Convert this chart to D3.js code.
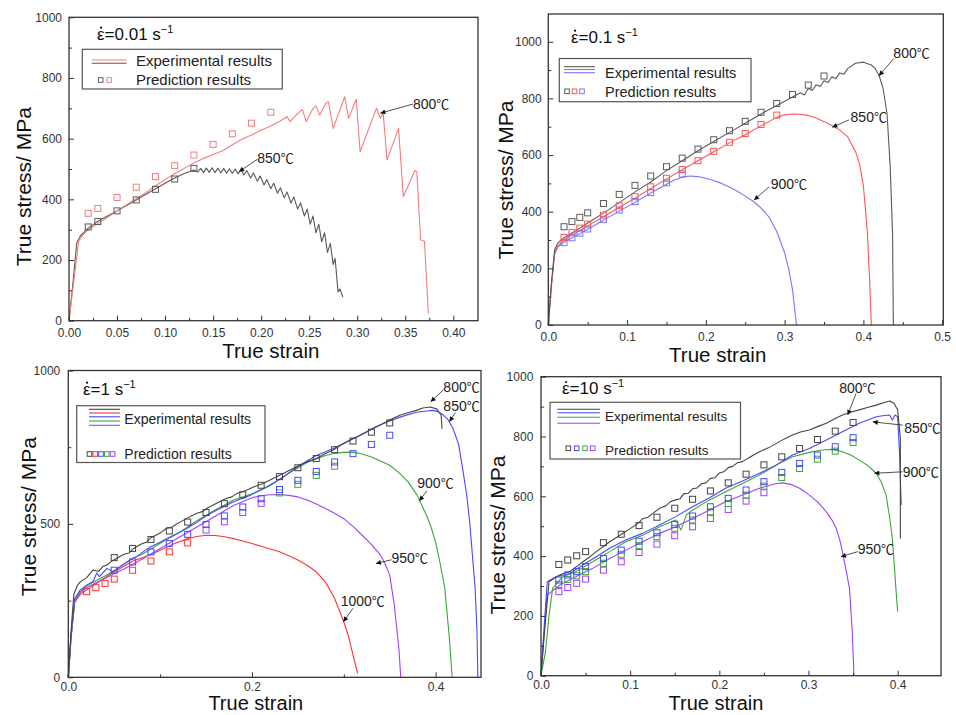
<!DOCTYPE html>
<html><head><meta charset="utf-8">
<script src="https://cdn.jsdelivr.net/npm/d3@7"></script>
<style>
body{margin:0;background:#fff}
svg{display:block}
text{font-family:"Liberation Sans",Arial,sans-serif}
</style>
</head><body>
<svg id="chart" width="956" height="715"></svg>
<script>
// ---------- strain-rate 0.01 s^-1 ----------
const P1_EXP_800 = [[0,0],[0.005,130],[0.01,262],[0.015,285],[0.02,300],[0.03,320],[0.04,340],[0.05,362],[0.06,382],[0.07,402],[0.08,422],[0.09,445],[0.10,465],[0.11,485],[0.12,502],[0.13,520],[0.14,535],[0.15,548],[0.16,560],[0.17,580],[0.18,598],[0.19,612],[0.20,628],[0.21,642],[0.22,658],[0.227,673],[0.23,656],[0.24,689],[0.243,695],[0.247,656],[0.254,700],[0.257,708],[0.261,678],[0.267,715],[0.27,722],[0.275,634],[0.287,738],[0.291,667],[0.299,730],[0.303,557],[0.32,700],[0.324,667],[0.327,684],[0.331,530],[0.343,634],[0.348,409],[0.36,495],[0.362,491],[0.366,266],[0.37,262],[0.374,24]];
const P1_EXP_850 = [[0,0],[0.004,120],[0.008,255],[0.012,280],[0.02,305],[0.03,328],[0.04,345],[0.05,362],[0.06,380],[0.07,398],[0.08,417],[0.09,435],[0.10,453],[0.11,470],[0.12,485],[0.13,497],[0.134,490],[0.137,502],[0.140,488],[0.143,503],[0.146,489],[0.149,504],[0.152,488],[0.155,503],[0.158,487],[0.161,502],[0.164,486],[0.167,501],[0.170,485],[0.173,500],[0.176,484],[0.179,499],[0.182,480],[0.185,495],[0.189,470],[0.192,487],[0.196,460],[0.199,477],[0.203,447],[0.206,465],[0.210,435],[0.213,453],[0.217,420],[0.220,438],[0.224,405],[0.227,424],[0.231,388],[0.234,408],[0.238,368],[0.241,388],[0.245,345],[0.248,368],[0.251,318],[0.254,345],[0.257,290],[0.260,318],[0.263,260],[0.266,290],[0.269,225],[0.272,255],[0.275,185],[0.277,205],[0.280,95],[0.282,105],[0.285,78]];
const P1_PRED_800 = [[0.02,354],[0.03,370],[0.05,406],[0.07,440],[0.09,475],[0.11,511],[0.13,546],[0.15,581],[0.17,616],[0.19,651],[0.21,687]];
const P1_PRED_850 = [[0.02,309],[0.03,327],[0.05,362],[0.07,398],[0.09,433],[0.11,467],[0.13,502]];
const P1_X_TICKS = [0,0.05,0.10,0.15,0.20,0.25,0.30,0.35,0.40];
const P1_X_LABELS = ["0.00","0.05","0.10","0.15","0.20","0.25","0.30","0.35","0.40"];
const P1_X_MINOR = [0.025,0.075,0.125,0.175,0.225,0.275,0.325,0.375];
const P1_Y_TICKS = [0,200,400,600,800,1000];
const P1_Y_LABELS = ["0","200","400","600","800","1000"];
const P1_Y_MINOR = [100,300,500,700,900];

// ---------- strain-rate 0.1 s^-1 ----------
const P2_EXP_800 = [[0,0],[0.004,150],[0.008,265],[0.012,290],[0.02,308],[0.03,325],[0.04,342],[0.05,360],[0.07,395],[0.09,432],[0.11,470],[0.13,505],[0.15,545],[0.17,580],[0.19,615],[0.21,648],[0.23,680],[0.25,712],[0.27,745],[0.29,775],[0.31,805],[0.32,820],[0.325,812],[0.33,835],[0.335,828],[0.34,848],[0.345,842],[0.35,862],[0.355,856],[0.36,876],[0.365,870],[0.37,890],[0.375,885],[0.38,905],[0.39,924],[0.40,928],[0.41,918],[0.415,905],[0.42,880],[0.425,835],[0.43,745],[0.434,560],[0.437,320],[0.438,0]];
const P2_EXP_850 = [[0,0],[0.004,140],[0.008,255],[0.012,280],[0.02,300],[0.03,318],[0.04,333],[0.05,350],[0.07,382],[0.09,415],[0.11,448],[0.13,482],[0.15,515],[0.17,548],[0.19,580],[0.21,612],[0.23,643],[0.25,672],[0.27,703],[0.29,733],[0.30,742],[0.31,745],[0.32,744],[0.33,740],[0.34,731],[0.35,718],[0.36,704],[0.37,688],[0.38,665],[0.39,612],[0.395,570],[0.40,490],[0.405,330],[0.408,150],[0.41,0]];
const P2_EXP_900 = [[0,0],[0.004,140],[0.008,250],[0.012,275],[0.02,292],[0.03,308],[0.04,322],[0.05,338],[0.07,370],[0.09,402],[0.11,433],[0.13,466],[0.15,497],[0.16,512],[0.17,522],[0.18,526],[0.19,524],[0.20,518],[0.21,510],[0.22,500],[0.23,487],[0.24,472],[0.25,455],[0.26,437],[0.27,413],[0.28,382],[0.29,330],[0.30,255],[0.305,200],[0.31,125],[0.315,0]];
const P2_PRED_800 = [[0.02,347],[0.03,365],[0.04,380],[0.05,396],[0.07,429],[0.09,461],[0.11,493],[0.13,526],[0.15,559],[0.17,589],[0.19,621],[0.21,654],[0.23,686],[0.25,719],[0.27,751],[0.29,782],[0.31,814],[0.33,847],[0.35,879]];
const P2_PRED_850 = [[0.02,309],[0.03,327],[0.04,342],[0.05,356],[0.07,388],[0.09,421],[0.11,453],[0.13,488],[0.15,518],[0.17,549],[0.19,580],[0.21,613],[0.23,645],[0.25,676],[0.27,708],[0.29,741]];
const P2_PRED_900 = [[0.02,291],[0.03,308],[0.04,324],[0.05,339],[0.07,373],[0.09,406],[0.11,436],[0.13,468],[0.15,502],[0.17,533]];
const P2_X_TICKS = [0,0.1,0.2,0.3,0.4,0.5];
const P2_X_LABELS = ["0.0","0.1","0.2","0.3","0.4","0.5"];
const P2_X_MINOR = [0.05,0.15,0.25,0.35,0.45];
const P2_Y_TICKS = [0,200,400,600,800,1000];
const P2_Y_LABELS = ["0","200","400","600","800","1000"];
const P2_Y_MINOR = [100,300,500,700,900];

// ---------- strain-rate 1 s^-1 ----------
const P3_EXP_800 = [[0,0],[0.003,150],[0.006,270],[0.01,300],[0.013,311],[0.02,325],[0.027,350],[0.033,345],[0.038,362],[0.042,366],[0.047,378],[0.053,388],[0.06,400],[0.066,405],[0.071,420],[0.08,435],[0.085,440],[0.089,453],[0.1,470],[0.107,486],[0.113,490],[0.118,500],[0.129,518],[0.14,535],[0.146,540],[0.151,551],[0.162,568],[0.172,583],[0.178,588],[0.183,598],[0.194,610],[0.203,622],[0.212,632],[0.223,648],[0.234,664],[0.243,678],[0.252,691],[0.261,703],[0.27,713],[0.279,728],[0.288,740],[0.297,757],[0.306,772],[0.316,786],[0.325,800],[0.334,815],[0.343,827],[0.352,842],[0.361,854],[0.37,862],[0.379,870],[0.386,878],[0.394,881],[0.401,875],[0.406,854],[0.407,810]];
const P3_EXP_850 = [[0,0],[0.003,140],[0.007,257],[0.013,285],[0.02,300],[0.027,312],[0.031,340],[0.034,328],[0.042,355],[0.049,344],[0.056,360],[0.064,376],[0.075,395],[0.089,425],[0.1,440],[0.107,452],[0.118,468],[0.129,485],[0.14,505],[0.151,528],[0.165,550],[0.18,572],[0.198,593],[0.216,620],[0.234,653],[0.252,691],[0.27,723],[0.288,745],[0.306,772],[0.325,800],[0.343,827],[0.361,848],[0.379,864],[0.39,868],[0.397,870],[0.403,866],[0.408,856],[0.414,838],[0.419,810],[0.425,760],[0.43,669],[0.434,590],[0.437,507],[0.44,400],[0.443,290],[0.445,150],[0.446,0]];
const P3_EXP_900 = [[0,0],[0.003,130],[0.007,250],[0.013,280],[0.02,298],[0.03,315],[0.04,330],[0.05,348],[0.06,368],[0.07,388],[0.08,400],[0.09,418],[0.1,437],[0.12,470],[0.14,510],[0.16,545],[0.18,578],[0.2,598],[0.22,625],[0.24,665],[0.26,700],[0.28,723],[0.29,730],[0.3,733],[0.31,734],[0.32,728],[0.33,718],[0.34,705],[0.35,691],[0.36,667],[0.37,637],[0.38,593],[0.39,528],[0.395,490],[0.40,441],[0.405,370],[0.41,290],[0.415,127],[0.418,0]];
const P3_EXP_950 = [[0,0],[0.003,130],[0.007,250],[0.013,275],[0.02,292],[0.03,308],[0.04,322],[0.05,338],[0.06,352],[0.07,368],[0.08,385],[0.09,402],[0.1,420],[0.12,455],[0.14,490],[0.16,525],[0.18,560],[0.2,585],[0.21,592],[0.22,595],[0.23,596],[0.24,593],[0.25,588],[0.26,578],[0.27,565],[0.28,550],[0.29,535],[0.3,517],[0.31,492],[0.32,463],[0.33,433],[0.34,398],[0.345,370],[0.35,333],[0.355,235],[0.36,94],[0.362,0]];
const P3_EXP_1000 = [[0,0],[0.003,130],[0.007,245],[0.013,270],[0.02,285],[0.03,305],[0.04,325],[0.05,344],[0.07,378],[0.09,400],[0.1,414],[0.115,435],[0.13,452],[0.14,459],[0.15,463],[0.16,462],[0.17,458],[0.18,452],[0.19,444],[0.2,436],[0.21,427],[0.22,418],[0.23,409],[0.24,396],[0.25,382],[0.26,365],[0.27,344],[0.28,311],[0.29,257],[0.3,181],[0.305,135],[0.31,73],[0.315,13]];
const P3_PRED_800 = [[0.05,390],[0.07,420],[0.09,449],[0.11,477],[0.13,506],[0.15,537],[0.17,566],[0.19,595],[0.21,626],[0.23,654],[0.25,683],[0.27,713],[0.29,742],[0.31,770],[0.33,799],[0.35,829]];
const P3_PRED_850 = [[0.05,349],[0.07,376],[0.09,409],[0.11,436],[0.13,466],[0.15,498],[0.17,526],[0.19,555],[0.21,582],[0.23,612],[0.25,642],[0.27,671],[0.29,702],[0.31,729],[0.33,759],[0.35,789]];
const P3_PRED_900 = [[0.23,601],[0.25,629],[0.27,658],[0.29,688]];
const P3_PRED_950 = [[0.15,480],[0.17,507],[0.19,537],[0.21,567]];
const P3_PRED_1000 = [[0.02,279],[0.03,292],[0.04,306],[0.05,320],[0.07,349],[0.09,379],[0.11,409],[0.13,438]];
const P3_X_TICKS = [0,0.2,0.4];
const P3_X_LABELS = ["0.0","0.2","0.4"];
const P3_X_MINOR = [0.1,0.3];
const P3_Y_TICKS = [0,500,1000];
const P3_Y_LABELS = ["0","500","1000"];
const P3_Y_MINOR = [250,750];

// ---------- strain-rate 10 s^-1 ----------
const P4_EXP_800 = [[0,0],[0.004,150],[0.009,314],[0.017,331],[0.025,342],[0.032,348],[0.04,365],[0.047,381],[0.055,398],[0.062,415],[0.07,432],[0.077,448],[0.086,465],[0.095,482],[0.105,502],[0.11,512],[0.114,526],[0.12,530],[0.125,542],[0.133,560],[0.14,568],[0.145,582],[0.151,588],[0.156,592],[0.16,608],[0.165,610],[0.17,625],[0.175,628],[0.18,642],[0.185,645],[0.19,660],[0.195,662],[0.2,678],[0.205,682],[0.21,696],[0.215,700],[0.22,712],[0.226,716],[0.235,732],[0.245,749],[0.255,762],[0.264,777],[0.273,792],[0.282,805],[0.291,815],[0.301,822],[0.31,833],[0.32,844],[0.33,860],[0.338,872],[0.348,882],[0.357,889],[0.367,898],[0.376,905],[0.385,914],[0.391,919],[0.396,911],[0.4,889],[0.403,794],[0.403,459]];
const P4_EXP_850 = [[0,0],[0.003,140],[0.007,314],[0.017,331],[0.032,342],[0.047,370],[0.062,398],[0.077,426],[0.095,454],[0.114,476],[0.133,504],[0.151,532],[0.17,565],[0.189,595],[0.207,627],[0.226,651],[0.245,677],[0.264,705],[0.282,738],[0.301,760],[0.32,788],[0.338,816],[0.357,844],[0.376,866],[0.385,870],[0.391,872],[0.394,855],[0.397,872],[0.4,866],[0.402,749],[0.404,571]];
const P4_EXP_900 = [[0,0],[0.005,80],[0.009,200],[0.013,292],[0.024,331],[0.039,348],[0.058,381],[0.077,415],[0.095,448],[0.114,470],[0.133,498],[0.151,521],[0.157,487],[0.163,538],[0.17,554],[0.189,588],[0.207,615],[0.226,643],[0.245,671],[0.264,705],[0.282,732],[0.301,747],[0.315,755],[0.327,757],[0.338,749],[0.348,737],[0.357,721],[0.367,702],[0.376,677],[0.382,645],[0.387,604],[0.391,530],[0.394,459],[0.396,380],[0.398,292],[0.4,214]];
const P4_EXP_950 = [[0,0],[0.003,120],[0.007,270],[0.021,303],[0.039,331],[0.058,359],[0.077,392],[0.095,420],[0.114,448],[0.133,476],[0.151,498],[0.17,526],[0.189,554],[0.207,582],[0.226,604],[0.245,627],[0.264,643],[0.271,645],[0.28,640],[0.29,627],[0.301,604],[0.31,582],[0.32,548],[0.326,522],[0.331,493],[0.335,455],[0.338,415],[0.342,355],[0.346,292],[0.349,150],[0.351,0]];
const P4_PRED_800 = [[0.02,372],[0.03,387],[0.04,401],[0.05,415],[0.07,445],[0.09,473],[0.11,502],[0.13,530],[0.15,560],[0.17,590],[0.19,618],[0.21,645],[0.23,674],[0.25,705],[0.27,732],[0.29,760],[0.31,790],[0.33,818],[0.35,847]];
const P4_PRED_850 = [[0.02,320],[0.03,337],[0.04,348],[0.05,365],[0.07,392],[0.09,420],[0.11,450],[0.13,478],[0.15,506],[0.17,534],[0.19,565],[0.21,593],[0.23,621],[0.25,649],[0.27,680],[0.29,710],[0.31,738],[0.33,766],[0.35,796]];
const P4_PRED_900 = [[0.02,305],[0.03,322],[0.04,334],[0.05,348],[0.07,376],[0.09,406],[0.11,435],[0.13,465],[0.15,493],[0.17,521],[0.19,548],[0.21,576],[0.23,604],[0.25,634],[0.27,663],[0.29,693],[0.31,724],[0.33,751],[0.35,780]];
const P4_PRED_950 = [[0.02,281],[0.03,295],[0.04,309],[0.05,323],[0.07,353],[0.09,381],[0.11,412],[0.13,440],[0.15,468],[0.17,498],[0.19,526],[0.21,556],[0.23,584],[0.25,612]];
const P4_X_TICKS = [0,0.1,0.2,0.3,0.4];
const P4_X_LABELS = ["0.0","0.1","0.2","0.3","0.4"];
const P4_X_MINOR = [0.05,0.15,0.25,0.35];
const P4_Y_TICKS = [0,200,400,600,800,1000];
const P4_Y_LABELS = ["0","200","400","600","800","1000"];
const P4_Y_MINOR = [100,300,500,700,900];

// temperature labels: [temperature, label strain, label stress, arrow-tail strain, arrow-tail stress, tip strain, tip stress]
const P1_NOTES = [["800",0.358,714,0.358,714,0.324,684],["850",0.196,535,0.196,532,0.177,491]];
const P2_NOTES = [["800",0.438,959,0.4386,941,0.4197,880],["850",0.3837,733,0.3816,724,0.3605,698],["900",0.2823,498,0.2802,488,0.2612,441]];
const P3_NOTES = [["800",0.4084,945,0.4084,937,0.3946,898],["850",0.4084,884,0.4215,863,0.415,833],["900",0.380,632,0.3905,608,0.3822,575],["950",0.352,388,0.352,383,0.335,371],["1000",0.2966,249,0.310,225,0.2995,181]];
const P4_NOTES = [["800",0.3345,963,0.3533,944,0.344,872],["850",0.4074,829,0.4056,838,0.372,849],["900",0.4056,682,0.4056,682,0.3738,677],["950",0.3552,423,0.3552,415,0.3364,398]];

const GRAY = "#5a5a5a", RED1 = "#f67c7c", RED2 = "#f55", BLUE2 = "#7777ff";
const GRAY3 = "#444", RED3 = "#f33", BLUE3 = "#4848ff", GREEN3 = "#3aa83a", PURPLE3 = "#a040ff";
const SANS = "'Liberation Sans', Arial, sans-serif";
const CJK = "'Noto Sans CJK SC', sans-serif";

const panels = [
  {box:[69,17.3,478,320.7], xMax:0.4257, yMax:1000,
   xt:P1_X_TICKS, xl:P1_X_LABELS, xm:P1_X_MINOR, yt:P1_Y_TICKS, yl:P1_Y_LABELS, ym:P1_Y_MINOR,
   lines:[[P1_EXP_850,GRAY],[P1_EXP_800,RED1]],
   marks:[[P1_PRED_850,GRAY],[P1_PRED_800,RED1]],
   notes:P1_NOTES, rate:"0.01", title:[97,40],
   legend:{box:[82.3,49.3,282.3,89], lx:[91.7,126.7], ly:[60,63.3], lc:[RED1,GRAY],
           tx:136, t1:61, t2:80, sx:[100.7,109.3], sy:80, sc:[GRAY,RED1], fs:15},
   yTitle:[23.3,186.7], xTitle:[270.8,358], xfs:20.5, yLabGap:7, xLabGap:12},
  {box:[548.3,14,943.3,325], xMax:0.5014, yMax:1098,
   xt:P2_X_TICKS, xl:P2_X_LABELS, xm:P2_X_MINOR, yt:P2_Y_TICKS, yl:P2_Y_LABELS, ym:P2_Y_MINOR,
   lines:[[P2_EXP_900,BLUE2],[P2_EXP_850,RED2],[P2_EXP_800,GRAY]],
   marks:[[P2_PRED_900,BLUE2],[P2_PRED_850,RED2],[P2_PRED_800,GRAY]],
   notes:P2_NOTES, rate:"0.1", title:[571,43],
   legend:{box:[559.3,58.5,751,101.7], lx:[564,595], ly:[66.7,69.5,72.7], lc:[GRAY,RED2,BLUE2],
           tx:605, t1:72.7, t2:91.7, sx:[567,574.5,582], sy:91.3, sc:[GRAY,RED2,BLUE2], fs:14.5},
   yTitle:[506,180], xTitle:[717.7,362], xfs:20.5, yLabGap:6.6, xLabGap:12},
  {box:[68.3,370.5,481,677.3], xMax:0.4494, yMax:1000,
   xt:P3_X_TICKS, xl:P3_X_LABELS, xm:P3_X_MINOR, yt:P3_Y_TICKS, yl:P3_Y_LABELS, ym:P3_Y_MINOR,
   lines:[[P3_EXP_1000,RED3],[P3_EXP_950,PURPLE3],[P3_EXP_900,GREEN3],[P3_EXP_850,BLUE3],[P3_EXP_800,GRAY3]],
   marks:[[P3_PRED_1000,RED3],[P3_PRED_950,PURPLE3],[P3_PRED_900,GREEN3],[P3_PRED_850,BLUE3],[P3_PRED_800,GRAY3]],
   notes:P3_NOTES, rate:"1", title:[83,395],
   legend:{box:[76.7,405.7,265,462.5], lx:[89,120], ly:[409.3,413,416.8,421,425.3], lc:[GRAY3,RED3,BLUE3,GREEN3,PURPLE3],
           tx:124.3, t1:419.3, t2:454.3, sx:[89.5,95.2,101,106.8,112.6], sy:454, sc:[GRAY3,RED3,BLUE3,GREEN3,PURPLE3], fs:14},
   yTitle:[28.3,516.7], xTitle:[255.8,710.3], xfs:20, yLabGap:8, xLabGap:9.5},
  {box:[541,376.7,941,675.7], xMax:0.4486, yMax:1000,
   xt:P4_X_TICKS, xl:P4_X_LABELS, xm:P4_X_MINOR, yt:P4_Y_TICKS, yl:P4_Y_LABELS, ym:P4_Y_MINOR,
   lines:[[P4_EXP_950,PURPLE3],[P4_EXP_900,GREEN3],[P4_EXP_850,BLUE3],[P4_EXP_800,GRAY3]],
   marks:[[P4_PRED_950,PURPLE3],[P4_PRED_900,GREEN3],[P4_PRED_850,BLUE3],[P4_PRED_800,GRAY3]],
   notes:P4_NOTES, rate:"10", title:[562,394.3],
   legend:{box:[550,402.3,740.5,459], lx:[557.3,600], ly:[409.3,412.7,417.3,423.3], lc:[GRAY3,BLUE3,GREEN3,PURPLE3],
           tx:605, t1:416.7, t2:450, sx:[568.3,576.7,585,592.7], sy:448.3, sc:[GRAY3,BLUE3,GREEN3,PURPLE3], fs:13.5},
   yTitle:[497.7,535], xTitle:[716,710], xfs:20, yLabGap:7.7, xLabGap:9.5}
];

const svg = d3.select("#chart");
const defs = svg.append("defs");
defs.append("marker").attr("id","arrow").attr("viewBox","0 0 10 10")
  .attr("refX",10).attr("refY",5).attr("markerWidth",7).attr("markerHeight",5)
  .attr("markerUnits","userSpaceOnUse").attr("orient","auto")
  .append("path").attr("d","M0,0L10,5L0,10z").attr("fill","#111");

panels.forEach(p => {
  const [L,T,R,B] = p.box;
  const x = d3.scaleLinear().domain([0,p.xMax]).range([L,R]);
  const y = d3.scaleLinear().domain([0,p.yMax]).range([B,T]);
  const g = svg.append("g");

  // experimental curves
  const line = d3.line().x(d => x(d[0])).y(d => y(d[1]));
  p.lines.forEach(([data,col]) => {
    g.append("path").datum(data).attr("d",line).attr("fill","none")
      .attr("stroke",col).attr("stroke-width",1.1).attr("stroke-linejoin","round");
  });

  // model predictions
  p.marks.forEach(([data,col]) => {
    g.selectAll(null).data(data).enter().append("rect")
      .attr("x",d => x(d[0]) - 3).attr("y",d => y(d[1]) - 3)
      .attr("width",6).attr("height",6)
      .attr("fill","none").attr("stroke",col).attr("stroke-width",1);
  });

  // frame
  g.append("rect").attr("x",L).attr("y",T).attr("width",R-L).attr("height",B-T)
    .attr("fill","none").attr("stroke","#333").attr("stroke-width",1.3);

  // x axis ticks (inward)
  const xa = d3.axisBottom(x).tickValues(p.xt).tickSize(-5).tickPadding(p.xLabGap - 4.3)
    .tickFormat((d,i) => p.xl[i]);
  const gx = g.append("g").attr("transform",`translate(0,${B})`).call(xa);
  gx.select(".domain").remove();
  gx.selectAll("line").attr("stroke","#333");
  gx.selectAll("text").attr("font-size",12).attr("fill","#333").attr("font-family",SANS);
  const xm = d3.axisBottom(x).tickValues(p.xm).tickSize(-3).tickFormat("");
  const gxm = g.append("g").attr("transform",`translate(0,${B})`).call(xm);
  gxm.select(".domain").remove();
  gxm.selectAll("line").attr("stroke","#333");

  // y axis ticks (inward)
  const ya = d3.axisLeft(y).tickValues(p.yt).tickSize(-5).tickPadding(p.yLabGap)
    .tickFormat((d,i) => p.yl[i]);
  const gy = g.append("g").attr("transform",`translate(${L},0)`).call(ya);
  gy.select(".domain").remove();
  gy.selectAll("line").attr("stroke","#333");
  gy.selectAll("text").attr("font-size",12).attr("fill","#333").attr("font-family",SANS);
  const ym = d3.axisLeft(y).tickValues(p.ym).tickSize(-3).tickFormat("");
  const gym = g.append("g").attr("transform",`translate(${L},0)`).call(ym);
  gym.select(".domain").remove();
  gym.selectAll("line").attr("stroke","#333");

  // axis titles
  g.append("text").attr("x",p.xTitle[0]).attr("y",p.xTitle[1]).attr("text-anchor","middle")
    .attr("font-size",p.xfs).attr("fill","#111").text("True strain");
  g.append("text").attr("transform",`translate(${p.yTitle[0]},${p.yTitle[1]}) rotate(-90)`)
    .attr("text-anchor","middle").attr("dy","0.35em").attr("font-size",21).attr("fill","#111")
    .text("True stress/ MPa");

  // strain-rate title: epsilon with an overdot, then "=rate s^-1"
  const t = g.append("text").attr("x",p.title[0]).attr("y",p.title[1])
    .attr("font-size",17).attr("fill","#111");
  t.append("tspan").text("\u03B5=" + p.rate + " s");
  t.append("tspan").attr("dy",-7).attr("font-size",11).text("\u22121");
  const epsW = t.node().getSubStringLength(0,1);
  g.append("circle").attr("cx",p.title[0] + epsW/2 + 0.3).attr("cy",p.title[1] - 12.3)
    .attr("r",1.1).attr("fill","#111");

  // temperature labels with arrows
  p.notes.forEach(n => {
    const lt = g.append("text").attr("x",x(n[1])).attr("y",y(n[2])).attr("dy","0.35em")
      .attr("font-family",SANS).attr("font-size",14).attr("fill","#222");
    lt.append("tspan").text(n[0]);
    lt.append("tspan").attr("font-family",CJK).attr("font-size",13).text("\u2103");
    g.append("line").attr("x1",x(n[3])).attr("y1",y(n[4])).attr("x2",x(n[5])).attr("y2",y(n[6]))
      .attr("stroke","#222").attr("stroke-width",0.8).attr("marker-end","url(#arrow)");
  });

  // legend
  const lg = p.legend;
  g.append("rect").attr("x",lg.box[0]).attr("y",lg.box[1])
    .attr("width",lg.box[2]-lg.box[0]).attr("height",lg.box[3]-lg.box[1])
    .attr("fill","#fff").attr("stroke","#555").attr("stroke-width",1.2);
  lg.ly.forEach((yy,i) => {
    g.append("line").attr("x1",lg.lx[0]).attr("x2",lg.lx[1]).attr("y1",yy).attr("y2",yy)
      .attr("stroke",lg.lc[i]).attr("stroke-width",1.1);
  });
  lg.sx.forEach((xx,i) => {
    g.append("rect").attr("x",xx-2.3).attr("y",lg.sy-2.3).attr("width",4.6).attr("height",4.6)
      .attr("fill","none").attr("stroke",lg.sc[i]).attr("stroke-width",1);
  });
  g.append("text").attr("x",lg.tx).attr("y",lg.t1).attr("dy","0.35em")
    .attr("font-size",lg.fs).attr("fill","#222").text("Experimental results");
  g.append("text").attr("x",lg.tx).attr("y",lg.t2).attr("dy","0.35em")
    .attr("font-size",lg.fs).attr("fill","#222").text("Prediction results");
});
</script>
</body></html>
